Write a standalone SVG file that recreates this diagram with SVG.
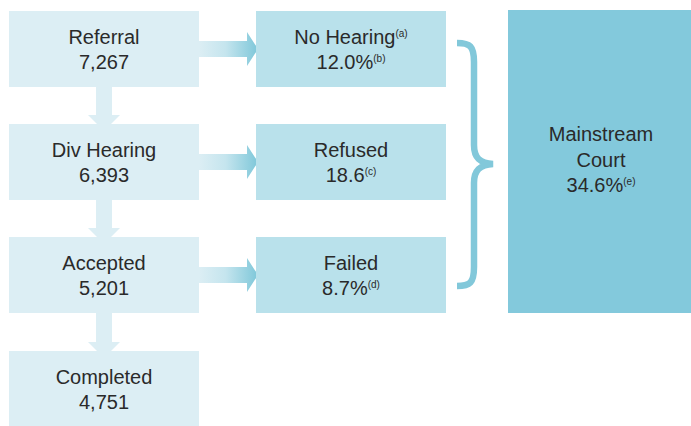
<svg xmlns="http://www.w3.org/2000/svg" width="691" height="426" viewBox="0 0 691 426">
<defs>
<linearGradient id="ag" x1="0" y1="0" x2="1" y2="0">
<stop offset="0" stop-color="#dceef4"/>
<stop offset="0.45" stop-color="#c5e5ee"/>
<stop offset="1" stop-color="#7ec7d9"/>
</linearGradient>
<style>
.l{fill:#dceef4}
.m{fill:#b9e1eb}
.r{fill:#83c9dc}
.da{fill:#dceef4}
.ra{fill:url(#ag)}
text{font-family:"Liberation Sans",Arial,sans-serif;font-size:20px;fill:#2a2a2a;text-anchor:middle}
.s{font-size:10px}
.br{fill:none;stroke:#82c8da;stroke-width:6.5;stroke-linecap:butt}
</style>
</defs>
<g id="connectors">
<path class="da" d="M96,87H112V115H120L104,131L88,115H96Z"/>
<path class="da" d="M96,200H112V228H120L104,244L88,228H96Z"/>
<path class="da" d="M96,313H112V342H120L104,358L88,342H96Z"/>
<path class="ra" d="M199,41H247V32L258,49L247,66V57H199Z"/>
<path class="ra" d="M199,154H247V145L258,162L247,179V170H199Z"/>
<path class="ra" d="M199,267H247V258L258,275L247,292V283H199Z"/>
<path class="br" d="M457,43C470,43 474,46 474,62V145C474,158 480,163 493,164C480,165 474,170 474,183V267C474,283 470,286 457,286"/>
</g>
<g id="referral"><rect class="l" x="9" y="11" width="190" height="76"/><text x="104" y="44">Referral</text><text x="104" y="69">7,267</text></g>
<g id="div-hearing"><rect class="l" x="9" y="124" width="190" height="76"/><text x="104" y="157">Div Hearing</text><text x="104" y="182">6,393</text></g>
<g id="accepted"><rect class="l" x="9" y="237" width="190" height="76"/><text x="104" y="270">Accepted</text><text x="104" y="295">5,201</text></g>
<g id="completed"><rect class="l" x="9" y="351" width="190" height="75"/><text x="104" y="384">Completed</text><text x="104" y="409">4,751</text></g>
<g id="no-hearing"><rect class="m" x="256" y="11" width="190" height="76"/><text x="351" y="44">No Hearing<tspan class="s" dy="-7">(a)</tspan></text><text x="351" y="69">12.0%<tspan class="s" dy="-7">(b)</tspan></text></g>
<g id="refused"><rect class="m" x="256" y="124" width="190" height="76"/><text x="351" y="157">Refused</text><text x="351" y="182">18.6<tspan class="s" dy="-7">(c)</tspan></text></g>
<g id="failed"><rect class="m" x="256" y="237" width="190" height="76"/><text x="351" y="270">Failed</text><text x="351" y="295">8.7%<tspan class="s" dy="-7">(d)</tspan></text></g>
<g id="mainstream"><rect class="r" x="508" y="10" width="183" height="303"/><text x="601" y="141">Mainstream</text><text x="601" y="167">Court</text><text x="601" y="192">34.6%<tspan class="s" dy="-7">(e)</tspan></text></g>
</svg>
